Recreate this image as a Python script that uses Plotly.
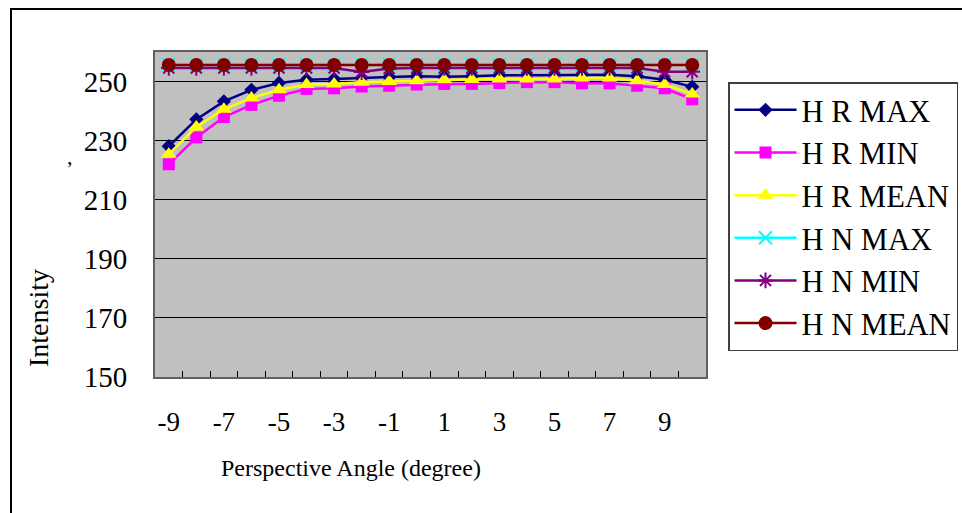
import plotly.graph_objects as go

angles = list(range(-9, 11))
tick_labels = ["-9", "-7", "-5", "-3", "-1", "1", "3", "5", "7", "9"]
tick_positions = [-9, -7, -5, -3, -1, 1, 3, 5, 7, 9]

h_r_max = [228.1, 237.2, 243.3, 247.2, 249.5, 250.6, 250.9, 251.3, 251.5, 251.8,
           251.6, 251.8, 252.1, 252.1, 252.1, 252.3, 252.3, 251.8, 250.6, 248.2]
h_r_min = [222.0, 231.1, 238.0, 242.1, 245.2, 247.5, 247.7, 248.3, 248.6, 249.0,
           249.2, 249.2, 249.5, 249.8, 249.8, 249.4, 249.4, 248.6, 247.7, 244.0]
h_r_mean = [225.4, 234.6, 240.6, 244.4, 247.2, 249.0, 249.2, 249.8, 250.0, 250.3,
            250.6, 250.7, 250.9, 250.9, 250.9, 251.2, 251.2, 250.3, 249.0, 245.8]
h_n_max = [255.8, 255.8, 255.8, 255.8, 255.8, 255.8, 255.8, 255.8, 255.8, 255.8,
           255.8, 255.8, 255.8, 255.8, 255.8, 255.8, 255.8, 255.8, 255.8, 255.8]
h_n_min = [254.6, 254.6, 254.6, 254.6, 254.6, 254.6, 254.6, 253.2, 254.4, 254.6,
           254.6, 254.6, 254.6, 254.6, 254.6, 254.6, 254.6, 254.6, 253.3, 253.3]
h_n_mean = [255.6, 255.6, 255.6, 255.6, 255.6, 255.6, 255.6, 255.6, 255.6, 255.6,
            255.6, 255.6, 255.6, 255.6, 255.6, 255.6, 255.6, 255.6, 255.6, 255.6]

series = [
    ("H R MAX", h_r_max, "#000080", "diamond", 11),
    ("H R MIN", h_r_min, "#FF00FF", "square", 12),
    ("H R MEAN", h_r_mean, "#FFFF00", "triangle-up", 14),
    ("H N MAX", h_n_max, "#00FFFF", "x-thin-open", 13),
    ("H N MIN", h_n_min, "#800080", "asterisk-open", 13),
    ("H N MEAN", h_n_mean, "#800000", "circle", 14),
]

FONT = "Liberation Serif"

fig = go.Figure()
for name, vals, color, sym, size in series:
    fig.add_trace(go.Scatter(
        x=angles, y=vals, name=name, mode="lines+markers",
        line=dict(color=color, width=2.5),
        marker=dict(symbol=sym, size=size, color=color,
                    line=dict(color=color, width=2 if "open" in sym else 0)),
    ))

W, H = 962, 513
L, R, T, B = 155, 706, 52, 377
pw, ph = R - L, B - T

def px(x):
    return (x - L) / pw

def py(y):
    return (B - y) / ph

fig.update_layout(
    width=W, height=H,
    margin=dict(l=L, r=W - R, t=T, b=H - B, autoexpand=False),
    paper_bgcolor="white",
    plot_bgcolor="#C0C0C0",
    font=dict(family=FONT, color="black"),
    showlegend=True,
    legend=dict(
        x=px(728), y=py(82), xanchor="left", yanchor="top",
        bgcolor="white", bordercolor="#404040", borderwidth=1.5,
        font=dict(family=FONT, size=30.5, color="black"),
        itemwidth=62, tracegroupgap=0,
    ),
    xaxis=dict(
        range=[-9.5, 10.5], tickmode="array", tickvals=tick_positions, ticktext=tick_labels,
        ticks="", showgrid=False, zeroline=False,
        showline=True, linecolor="#606060", linewidth=2, mirror=True,
        tickfont=dict(family=FONT, size=27, color="black"),
        ticklabelstandoff=20,
        minor=dict(tickmode="array", tickvals=[v + 0.5 for v in angles[:-1]],
                   ticks="inside", ticklen=6, tickcolor="black", tickwidth=1, showgrid=False),
    ),
    yaxis=dict(
        range=[150, 260], tickmode="array", tickvals=[150, 170, 190, 210, 230, 250],
        ticks="", showgrid=True, gridcolor="black", gridwidth=1, zeroline=False,
        showline=True, linecolor="#606060", linewidth=2, mirror=True,
        tickfont=dict(family=FONT, size=29, color="black"),
        ticklabelstandoff=20,
    ),
    annotations=[
        dict(text="Perspective Angle (degree)", xref="paper", yref="paper",
             x=px(351), y=py(468), xanchor="center", yanchor="middle", showarrow=False,
             font=dict(family=FONT, size=24, color="black")),
        dict(text="Intensity", xref="paper", yref="paper", textangle=-90,
             x=px(38), y=py(318), xanchor="center", yanchor="middle", showarrow=False,
             font=dict(family=FONT, size=28, color="black")),
        dict(text=",", xref="paper", yref="paper",
             x=px(70), y=py(156), xanchor="center", yanchor="middle", showarrow=False,
             font=dict(family=FONT, size=22, color="black")),
    ],
    shapes=[
        dict(type="rect", xref="paper", yref="paper",
             x0=px(11), x1=px(970), y0=py(520), y1=py(9),
             line=dict(color="black", width=2), fillcolor="rgba(0,0,0,0)", layer="below"),
    ],
)

fig.write_html("out.html")
